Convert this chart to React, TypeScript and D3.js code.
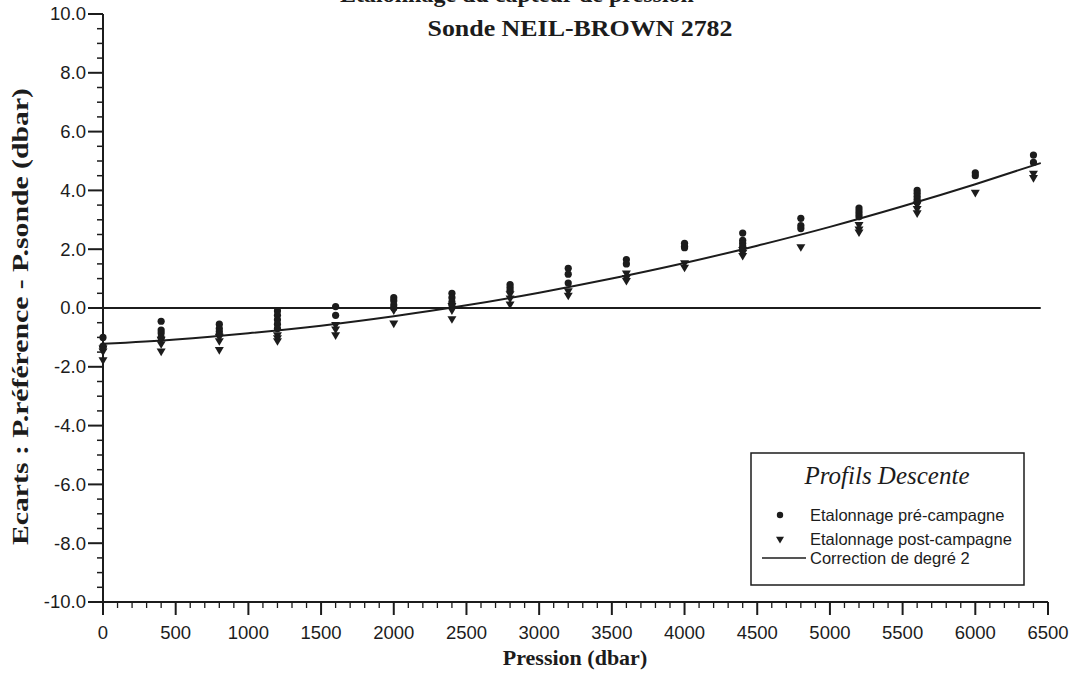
import React from "react";
import * as d3 from "d3";

// ---- data ----
const pressures = [0, 400, 800, 1200, 1600, 2000, 2400, 2800, 3200, 3600, 4000, 4400, 4800, 5200, 5600, 6000, 6400];

const preCampagne: number[][] = [
  [-1.0, -1.3, -1.35],
  [-0.45, -0.75, -0.85, -1.0],
  [-0.55, -0.7, -0.8, -0.9],
  [-0.1, -0.25, -0.4, -0.55, -0.7],
  [0.05, -0.25],
  [0.35, 0.25, 0.1, 0.0],
  [0.5, 0.35, 0.2, 0.1],
  [0.8, 0.7, 0.6],
  [1.35, 1.15, 0.85],
  [1.65, 1.5],
  [2.2, 2.1, 2.05],
  [2.55, 2.3, 2.2, 2.1, 2.0],
  [3.05, 2.8, 2.7],
  [3.4, 3.3, 3.2, 3.1],
  [4.0, 3.9, 3.8, 3.7, 3.6],
  [4.6, 4.5],
  [5.2, 4.95],
];

const postCampagne: number[][] = [
  [-1.4, -1.5, -1.8],
  [-1.1, -1.25, -1.5],
  [-1.0, -1.15, -1.45],
  [-0.95, -1.05, -1.15],
  [-0.6, -0.75, -0.95],
  [-0.1, -0.55],
  [0.05, -0.1, -0.4],
  [0.45, 0.3, 0.1],
  [0.55, 0.4],
  [1.15, 1.0, 0.9],
  [1.5, 1.35],
  [1.95, 1.85, 1.75],
  [2.05],
  [2.8, 2.65, 2.55],
  [3.5, 3.35, 3.2],
  [3.9],
  [4.55, 4.4],
];

const fitPressures = [0, 500, 1000, 1500, 2000, 2500, 3000, 3500, 4000, 4500, 5000, 5500, 6000, 6450];
const fitEcarts = [-1.22, -1.07, -0.86, -0.6, -0.28, 0.09, 0.52, 1.0, 1.53, 2.12, 2.76, 3.46, 4.21, 4.93];

const zeroPressures = [0, 6450];
const zeroEcarts = [0, 0];

const xMajorTicks = [0, 500, 1000, 1500, 2000, 2500, 3000, 3500, 4000, 4500, 5000, 5500, 6000, 6500];
const yMajorTicks = [-10, -8, -6, -4, -2, 0, 2, 4, 6, 8, 10];

const titleLines = ["Etalonnage du capteur de pression", "Sonde NEIL-BROWN 2782"];
const xLabel = "Pression (dbar)";
const yLabel = "Ecarts : P.référence - P.sonde (dbar)";
const legendTitle = "Profils Descente";
const legendLabels = ["Etalonnage pré-campagne", "Etalonnage post-campagne", "Correction de degré 2"];

// ---- component ----
const INK = "#1c1c1c";
const SANS = "'Liberation Sans', Arial, Helvetica, sans-serif";
const SERIF = "'Liberation Serif', 'Times New Roman', Times, serif";

export default function App() {
  const W = 1083;
  const H = 683;
  const x = d3.scaleLinear().domain([0, 6500]).range([103, 1048]);
  const y = d3.scaleLinear().domain([-10, 10]).range([602, 14]);

  const xMinor = d3.range(0, 6501, 100).filter((v) => v % 500 !== 0);
  const yMinor = d3.range(-10, 10.001, 0.5).filter((v) => Math.abs(v % 2) > 1e-6);
  const fmt = (v: number) => d3.format(".1f")(v).replace("\u2212", "-");

  const line = d3
    .line<[number, number]>()
    .x((d) => x(d[0]))
    .y((d) => y(d[1]))
    .curve(d3.curveMonotoneX);

  const fitPath = line(fitPressures.map((p, i) => [p, fitEcarts[i]] as [number, number])) || "";
  const zeroPath = line(zeroPressures.map((p, i) => [p, zeroEcarts[i]] as [number, number])) || "";

  const tri = (cx: number, cy: number, s = 4.5) =>
    `M${cx - s},${cy - s * 0.8}L${cx + s},${cy - s * 0.8}L${cx},${cy + s * 0.9}Z`;

  const x0 = x(0);
  const yb = y(-10);

  return (
    <svg
      width={W}
      height={H}
      style={{ position: "absolute", left: 0, top: 0, background: "#fff" }}
      viewBox={`0 0 ${W} ${H}`}
    >
      <rect x={0} y={0} width={W} height={H} fill="#fff" />

      {/* titles */}
      <text x={517} y={2} textAnchor="middle" fontFamily={SERIF} fontWeight="bold" fontSize={24} fill={INK}>
        {titleLines[0]}
      </text>
      <text
        x={580}
        y={36}
        textAnchor="middle"
        fontFamily={SERIF}
        fontWeight="bold"
        fontSize={24}
        fill={INK}
        textLength={305}
        lengthAdjust="spacingAndGlyphs"
      >
        {titleLines[1]}
      </text>

      {/* zero line and fit curve */}
      <path d={zeroPath} fill="none" stroke={INK} strokeWidth={2} />
      <path d={fitPath} fill="none" stroke={INK} strokeWidth={2} />

      {/* markers */}
      {pressures.map((p, i) =>
        preCampagne[i].map((v, j) => (
          <circle key={`pre-${i}-${j}`} cx={x(p)} cy={y(v)} r={3.6} fill={INK} />
        ))
      )}
      {pressures.map((p, i) =>
        postCampagne[i].map((v, j) => <path key={`post-${i}-${j}`} d={tri(x(p), y(v))} fill={INK} />)
      )}

      {/* y axis */}
      <line x1={x0} x2={x0} y1={y(10)} y2={yb} stroke={INK} strokeWidth={2} />
      {yMajorTicks.map((t) => (
        <g key={`ym-${t}`}>
          <line x1={x0 - 15} x2={x0} y1={y(t)} y2={y(t)} stroke={INK} strokeWidth={2} />
          <text
            x={x0 - 17}
            y={y(t)}
            dy="0.35em"
            textAnchor="end"
            fontFamily={SANS}
            fontSize={18.5}
            fill={INK}
          >
            {fmt(t)}
          </text>
        </g>
      ))}
      {yMinor.map((t) => (
        <line key={`yn-${t}`} x1={x0 - 6} x2={x0} y1={y(t)} y2={y(t)} stroke={INK} strokeWidth={1.5} />
      ))}

      {/* x axis */}
      <line x1={x0 - 1} x2={x(6500)} y1={yb} y2={yb} stroke={INK} strokeWidth={2} />
      {xMajorTicks.map((t) => (
        <g key={`xm-${t}`}>
          <line x1={x(t)} x2={x(t)} y1={yb} y2={yb + 13} stroke={INK} strokeWidth={2} />
          <text x={x(t)} y={yb + 37} textAnchor="middle" fontFamily={SANS} fontSize={18.5} fill={INK}>
            {t}
          </text>
        </g>
      ))}
      {xMinor.map((t) => (
        <line key={`xn-${t}`} x1={x(t)} x2={x(t)} y1={yb} y2={yb + 6} stroke={INK} strokeWidth={1.3} />
      ))}

      {/* axis labels */}
      <text x={575} y={665} textAnchor="middle" fontFamily={SERIF} fontWeight="bold" fontSize={22} fill={INK}>
        {xLabel}
      </text>
      <text
        transform={`translate(28,${(88 + 545) / 2}) rotate(-90)`}
        textAnchor="middle"
        fontFamily={SERIF}
        fontWeight="bold"
        fontSize={24}
        fill={INK}
        textLength={457}
        lengthAdjust="spacingAndGlyphs"
      >
        {yLabel}
      </text>

      {/* legend */}
      <g>
        <rect x={751} y={453} width={273} height={132} fill="#fff" stroke={INK} strokeWidth={1.5} />
        <text x={887} y={484} textAnchor="middle" fontFamily={SERIF} fontStyle="italic" fontSize={25} fill={INK}>
          {legendTitle}
        </text>
        <circle cx={780} cy={515} r={3.2} fill={INK} />
        <text x={810} y={521} fontFamily={SANS} fontSize={16.5} fill={INK}>
          {legendLabels[0]}
        </text>
        <path d={tri(780, 540, 4)} fill={INK} />
        <text x={810} y={545} fontFamily={SANS} fontSize={16.5} fill={INK}>
          {legendLabels[1]}
        </text>
        <line x1={762} x2={806} y1={558} y2={558} stroke={INK} strokeWidth={1.5} />
        <text x={810} y={564} fontFamily={SANS} fontSize={16.5} fill={INK}>
          {legendLabels[2]}
        </text>
      </g>
    </svg>
  );
}
